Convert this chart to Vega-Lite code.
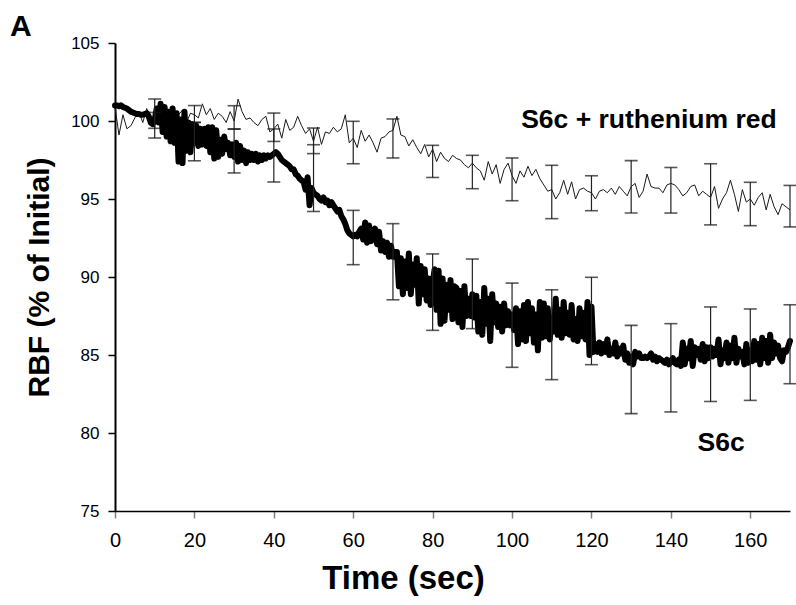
{
  "$schema": "https://vega.github.io/schema/vega-lite/v6.json",
  "width": 675,
  "height": 468,
  "autosize": {"type": "none"},
  "padding": {"left": 115, "top": 43, "right": 6, "bottom": 94},
  "background": "white",
  "config": {"view": {"stroke": null}, "axis": {"grid": false}},
  "title": {"text": "A", "anchor": "start", "frame": "group", "font": "Liberation Sans", "fontSize": 30, "fontWeight": "bold", "color": "#000", "dx": -105, "dy": 40, "offset": 8, "baseline": "alphabetic"},
  "datasets": {
    "rr": [
      {"time":0,"rbf":100.9},{"time":1,"rbf":99.1},{"time":2,"rbf":100.4},{"time":3,"rbf":99.5},{"time":4,"rbf":99.7},{"time":5,"rbf":100.2},{"time":6,"rbf":100.6},{"time":7,"rbf":99.9},{"time":8,"rbf":100.8},{"time":9,"rbf":100.0},
      {"time":10,"rbf":100.3},{"time":11,"rbf":100.9},{"time":12,"rbf":100.1},{"time":13,"rbf":100.6},{"time":14,"rbf":100.5},{"time":15,"rbf":100.0},{"time":16,"rbf":100.4},{"time":17,"rbf":100.7},{"time":18,"rbf":99.9},{"time":19,"rbf":100.5},
      {"time":20,"rbf":100.4},{"time":21,"rbf":100.2},{"time":22,"rbf":101.1},{"time":23,"rbf":100.4},{"time":24,"rbf":100.8},{"time":25,"rbf":100.1},{"time":26,"rbf":100.5},{"time":27,"rbf":100.3},{"time":28,"rbf":99.9},{"time":29,"rbf":100.6},
      {"time":30,"rbf":100.0},{"time":31,"rbf":101.4},{"time":32,"rbf":100.6},{"time":33,"rbf":100.1},{"time":34,"rbf":100.2},{"time":35,"rbf":99.9},{"time":36,"rbf":99.7},{"time":37,"rbf":100.1},{"time":38,"rbf":100.3},{"time":39,"rbf":99.3},
      {"time":40,"rbf":99.5},{"time":41,"rbf":99.8},{"time":42,"rbf":98.9},{"time":43,"rbf":100.1},{"time":44,"rbf":99.4},{"time":45,"rbf":99.6},{"time":46,"rbf":100.3},{"time":47,"rbf":99.7},{"time":48,"rbf":99.2},{"time":49,"rbf":99.5},
      {"time":50,"rbf":98.7},{"time":51,"rbf":99.6},{"time":52,"rbf":98.5},{"time":53,"rbf":99.3},{"time":54,"rbf":99.2},{"time":55,"rbf":99.6},{"time":56,"rbf":99.3},{"time":57,"rbf":99.5},{"time":58,"rbf":100.4},{"time":59,"rbf":98.6},
      {"time":60,"rbf":98.9},{"time":61,"rbf":98.3},{"time":62,"rbf":99.4},{"time":63,"rbf":98.7},{"time":64,"rbf":99.1},{"time":65,"rbf":98.6},{"time":66,"rbf":98.0},{"time":67,"rbf":98.9},{"time":68,"rbf":99.0},{"time":69,"rbf":99.3},
      {"time":70,"rbf":99.4},{"time":71,"rbf":100.3},{"time":72,"rbf":99.1},{"time":73,"rbf":99.0},{"time":74,"rbf":98.4},{"time":75,"rbf":98.8},{"time":76,"rbf":98.3},{"time":77,"rbf":97.9},{"time":78,"rbf":98.5},{"time":79,"rbf":97.7},
      {"time":80,"rbf":98.2},{"time":81,"rbf":97.4},{"time":82,"rbf":98.0},{"time":83,"rbf":97.6},{"time":84,"rbf":97.4},{"time":85,"rbf":97.8},{"time":86,"rbf":97.6},{"time":87,"rbf":97.5},{"time":88,"rbf":97.2},{"time":89,"rbf":97.0},
      {"time":90,"rbf":97.3},{"time":91,"rbf":97.0},{"time":92,"rbf":96.8},{"time":93,"rbf":96.2},{"time":94,"rbf":97.4},{"time":95,"rbf":96.6},{"time":96,"rbf":97.2},{"time":97,"rbf":96.0},{"time":98,"rbf":96.9},{"time":99,"rbf":97.3},
      {"time":100,"rbf":96.5},{"time":101,"rbf":96.0},{"time":102,"rbf":96.8},{"time":103,"rbf":96.4},{"time":104,"rbf":97.1},{"time":105,"rbf":96.5},{"time":106,"rbf":96.9},{"time":107,"rbf":96.3},{"time":108,"rbf":95.9},{"time":109,"rbf":95.5},
      {"time":110,"rbf":95.6},{"time":111,"rbf":95.0},{"time":112,"rbf":95.4},{"time":113,"rbf":96.2},{"time":114,"rbf":95.3},{"time":115,"rbf":96.1},{"time":116,"rbf":95.0},{"time":117,"rbf":95.6},{"time":118,"rbf":95.7},{"time":119,"rbf":95.5},
      {"time":120,"rbf":95.4},{"time":121,"rbf":95.0},{"time":122,"rbf":95.5},{"time":123,"rbf":95.6},{"time":124,"rbf":95.4},{"time":125,"rbf":95.7},{"time":126,"rbf":95.3},{"time":127,"rbf":95.8},{"time":128,"rbf":95.5},{"time":129,"rbf":95.2},
      {"time":130,"rbf":95.8},{"time":131,"rbf":96.0},{"time":132,"rbf":95.1},{"time":133,"rbf":95.5},{"time":134,"rbf":96.6},{"time":135,"rbf":95.8},{"time":136,"rbf":95.7},{"time":137,"rbf":95.7},{"time":138,"rbf":95.4},{"time":139,"rbf":95.9},
      {"time":140,"rbf":96.0},{"time":141,"rbf":95.9},{"time":142,"rbf":95.6},{"time":143,"rbf":95.2},{"time":144,"rbf":95.4},{"time":145,"rbf":95.8},{"time":146,"rbf":95.9},{"time":147,"rbf":95.2},{"time":148,"rbf":95.5},{"time":149,"rbf":95.3},
      {"time":150,"rbf":95.1},{"time":151,"rbf":95.8},{"time":152,"rbf":94.4},{"time":153,"rbf":95.0},{"time":154,"rbf":95.4},{"time":155,"rbf":96.2},{"time":156,"rbf":95.3},{"time":157,"rbf":94.2},{"time":158,"rbf":95.6},{"time":159,"rbf":94.8},
      {"time":160,"rbf":95.0},{"time":161,"rbf":94.6},{"time":162,"rbf":95.1},{"time":163,"rbf":95.4},{"time":164,"rbf":94.3},{"time":165,"rbf":95.3},{"time":166,"rbf":94.5},{"time":167,"rbf":94.0},{"time":168,"rbf":94.7},{"time":169,"rbf":94.5},
      {"time":170,"rbf":94.3}
    ],
    "s6c": [
      {"time":0,"rbf":101.0},{"time":0.5,"rbf":101.0},{"time":1,"rbf":100.95},{"time":1.5,"rbf":101.0},{"time":2,"rbf":100.9},{"time":2.5,"rbf":100.85},{"time":3,"rbf":100.8},{"time":3.5,"rbf":100.7},{"time":4,"rbf":100.6},{"time":4.5,"rbf":100.55},
      {"time":5,"rbf":100.5},{"time":5.5,"rbf":100.45},{"time":6,"rbf":100.45},{"time":6.5,"rbf":100.4},{"time":7,"rbf":100.4},{"time":7.5,"rbf":100.45},{"time":8,"rbf":100.5},{"time":8.5,"rbf":100.3},{"time":9,"rbf":99.9},{"time":9.5,"rbf":99.8},
      {"time":10,"rbf":100.1},{"time":10.5,"rbf":100.8},{"time":11,"rbf":99.9},{"time":11.5,"rbf":101.1},{"time":12,"rbf":99.3},{"time":12.5,"rbf":100.9},{"time":13,"rbf":99.0},{"time":13.5,"rbf":100.6},{"time":14,"rbf":98.7},{"time":14.5,"rbf":100.8},
      {"time":15,"rbf":98.6},{"time":15.5,"rbf":100.5},{"time":16,"rbf":97.4},{"time":16.5,"rbf":100.1},{"time":17,"rbf":97.3},{"time":17.5,"rbf":100.6},{"time":18,"rbf":98.1},{"time":18.5,"rbf":99.9},{"time":19,"rbf":98.0},{"time":19.5,"rbf":99.8},
      {"time":20,"rbf":98.6},{"time":20.5,"rbf":99.7},{"time":21,"rbf":98.4},{"time":21.5,"rbf":99.5},{"time":22,"rbf":98.5},{"time":22.5,"rbf":99.5},{"time":23,"rbf":98.4},{"time":23.5,"rbf":99.6},{"time":24,"rbf":98.0},{"time":24.5,"rbf":99.6},
      {"time":25,"rbf":97.6},{"time":25.5,"rbf":99.4},{"time":26,"rbf":97.7},{"time":26.5,"rbf":98.8},{"time":27,"rbf":97.9},{"time":27.5,"rbf":99.0},{"time":28,"rbf":98.2},{"time":28.5,"rbf":98.6},{"time":29,"rbf":97.8},{"time":29.5,"rbf":98.5},
      {"time":30,"rbf":97.7},{"time":30.5,"rbf":98.6},{"time":31,"rbf":97.4},{"time":31.5,"rbf":98.4},{"time":32,"rbf":97.5},{"time":32.5,"rbf":98.1},{"time":33,"rbf":97.3},{"time":33.5,"rbf":98.0},{"time":34,"rbf":97.5},{"time":34.5,"rbf":97.9},
      {"time":35,"rbf":97.5},{"time":35.5,"rbf":97.9},{"time":36,"rbf":97.4},{"time":36.5,"rbf":97.8},{"time":37,"rbf":97.5},{"time":37.5,"rbf":97.8},{"time":38,"rbf":97.6},{"time":38.5,"rbf":97.8},{"time":39,"rbf":97.7},{"time":39.5,"rbf":97.8},
      {"time":40,"rbf":97.9},{"time":40.5,"rbf":98.0},{"time":41,"rbf":97.9},{"time":41.5,"rbf":97.7},{"time":42,"rbf":97.5},{"time":42.5,"rbf":97.4},{"time":43,"rbf":97.3},{"time":43.5,"rbf":97.2},{"time":44,"rbf":97.1},{"time":44.5,"rbf":96.9},
      {"time":45,"rbf":96.9},{"time":45.5,"rbf":96.6},{"time":46,"rbf":96.5},{"time":46.5,"rbf":96.3},{"time":47,"rbf":96.2},{"time":47.5,"rbf":96.1},{"time":48,"rbf":95.6},{"time":48.5,"rbf":96.4},{"time":49,"rbf":94.6},{"time":49.5,"rbf":95.7},
      {"time":50,"rbf":95.4},{"time":50.5,"rbf":95.3},{"time":51,"rbf":95.2},{"time":51.5,"rbf":95.0},{"time":52,"rbf":94.9},{"time":52.5,"rbf":95.1},{"time":53,"rbf":94.8},{"time":53.5,"rbf":94.9},{"time":54,"rbf":94.6},{"time":54.5,"rbf":94.8},
      {"time":55,"rbf":94.6},{"time":55.5,"rbf":94.4},{"time":56,"rbf":94.2},{"time":56.5,"rbf":94.3},{"time":57,"rbf":93.9},{"time":57.5,"rbf":93.7},{"time":58,"rbf":93.4},{"time":58.5,"rbf":93.0},{"time":59,"rbf":92.8},{"time":59.5,"rbf":92.7},
      {"time":60,"rbf":92.6},{"time":60.5,"rbf":92.7},{"time":61,"rbf":92.6},{"time":61.5,"rbf":92.9},{"time":62,"rbf":93.1},{"time":62.5,"rbf":92.4},{"time":63,"rbf":93.5},{"time":63.5,"rbf":92.2},{"time":64,"rbf":93.3},{"time":64.5,"rbf":92.3},
      {"time":65,"rbf":92.6},{"time":65.5,"rbf":93.1},{"time":66,"rbf":92.1},{"time":66.5,"rbf":92.9},{"time":67,"rbf":91.7},{"time":67.5,"rbf":92.3},{"time":68,"rbf":91.6},{"time":68.5,"rbf":92.2},{"time":69,"rbf":91.3},{"time":69.5,"rbf":92.0},
      {"time":70,"rbf":91.3},{"time":70.5,"rbf":91.6},{"time":71,"rbf":91.6},{"time":71.5,"rbf":89.4},{"time":72,"rbf":91.2},{"time":72.5,"rbf":88.9},{"time":73,"rbf":91.0},{"time":73.5,"rbf":89.3},{"time":74,"rbf":91.5},{"time":74.5,"rbf":88.9},
      {"time":75,"rbf":90.8},{"time":75.5,"rbf":89.5},{"time":76,"rbf":91.2},{"time":76.5,"rbf":88.3},{"time":77,"rbf":90.7},{"time":77.5,"rbf":88.9},{"time":78,"rbf":90.5},{"time":78.5,"rbf":88.5},{"time":79,"rbf":89.9},{"time":79.5,"rbf":88.2},
      {"time":80,"rbf":89.6},{"time":80.5,"rbf":90.5},{"time":81,"rbf":87.9},{"time":81.5,"rbf":90.4},{"time":82,"rbf":87.0},{"time":82.5,"rbf":89.9},{"time":83,"rbf":87.2},{"time":83.5,"rbf":89.5},{"time":84,"rbf":87.9},{"time":84.5,"rbf":89.8},
      {"time":85,"rbf":87.3},{"time":85.5,"rbf":89.4},{"time":86,"rbf":89.3},{"time":86.5,"rbf":87.1},{"time":87,"rbf":89.1},{"time":87.5,"rbf":86.8},{"time":88,"rbf":89.4},{"time":88.5,"rbf":87.5},{"time":89,"rbf":88.6},{"time":89.5,"rbf":87.5},
      {"time":90,"rbf":88.9},{"time":90.5,"rbf":87.4},{"time":91,"rbf":88.8},{"time":91.5,"rbf":86.5},{"time":92,"rbf":88.4},{"time":92.5,"rbf":86.3},{"time":93,"rbf":89.3},{"time":93.5,"rbf":87.0},{"time":94,"rbf":88.6},{"time":94.5,"rbf":85.9},
      {"time":95,"rbf":88.9},{"time":95.5,"rbf":87.1},{"time":96,"rbf":88.3},{"time":96.5,"rbf":86.8},{"time":97,"rbf":88.1},{"time":97.5,"rbf":86.5},{"time":98,"rbf":88.3},{"time":98.5,"rbf":86.9},{"time":99,"rbf":87.8},{"time":99.5,"rbf":86.9},
      {"time":100,"rbf":87.6},{"time":100.5,"rbf":86.6},{"time":101,"rbf":88.0},{"time":101.5,"rbf":85.7},{"time":102,"rbf":87.8},{"time":102.5,"rbf":86.0},{"time":103,"rbf":88.2},{"time":103.5,"rbf":85.9},{"time":104,"rbf":88.4},{"time":104.5,"rbf":86.4},
      {"time":105,"rbf":88.0},{"time":105.5,"rbf":85.8},{"time":106,"rbf":87.6},{"time":106.5,"rbf":85.3},{"time":107,"rbf":88.4},{"time":107.5,"rbf":86.1},{"time":108,"rbf":88.3},{"time":108.5,"rbf":86.2},{"time":109,"rbf":88.0},{"time":109.5,"rbf":86.0},
      {"time":110,"rbf":87.4},{"time":110.5,"rbf":86.5},{"time":111,"rbf":88.6},{"time":111.5,"rbf":86.3},{"time":112,"rbf":87.9},{"time":112.5,"rbf":86.1},{"time":113,"rbf":88.4},{"time":113.5,"rbf":86.4},{"time":114,"rbf":87.7},{"time":114.5,"rbf":86.3},
      {"time":115,"rbf":88.2},{"time":115.5,"rbf":86.0},{"time":116,"rbf":87.3},{"time":116.5,"rbf":85.9},{"time":117,"rbf":88.0},{"time":117.5,"rbf":86.2},{"time":118,"rbf":87.7},{"time":118.5,"rbf":86.0},{"time":119,"rbf":88.4},{"time":119.5,"rbf":85.0},
      {"time":120,"rbf":88.1},{"time":120.5,"rbf":85.2},{"time":121,"rbf":85.7},{"time":121.5,"rbf":85.2},{"time":122,"rbf":85.8},{"time":122.5,"rbf":85.1},{"time":123,"rbf":85.7},{"time":123.5,"rbf":85.2},{"time":124,"rbf":86.0},{"time":124.5,"rbf":85.0},
      {"time":125,"rbf":85.4},{"time":125.5,"rbf":85.1},{"time":126,"rbf":85.8},{"time":126.5,"rbf":84.9},{"time":127,"rbf":85.4},{"time":127.5,"rbf":85.1},{"time":128,"rbf":85.6},{"time":128.5,"rbf":84.7},{"time":129,"rbf":85.1},{"time":129.5,"rbf":84.5},
      {"time":130,"rbf":84.9},{"time":130.5,"rbf":84.4},{"time":131,"rbf":85.2},{"time":131.5,"rbf":84.9},{"time":132,"rbf":85.1},{"time":132.5,"rbf":84.8},{"time":133,"rbf":84.8},{"time":133.5,"rbf":84.9},{"time":134,"rbf":84.8},{"time":134.5,"rbf":84.9},
      {"time":135,"rbf":85.1},{"time":135.5,"rbf":84.7},{"time":136,"rbf":84.9},{"time":136.5,"rbf":84.6},{"time":137,"rbf":84.8},{"time":137.5,"rbf":84.7},{"time":138,"rbf":84.6},{"time":138.5,"rbf":84.5},{"time":139,"rbf":84.7},{"time":139.5,"rbf":84.4},
      {"time":140,"rbf":84.6},{"time":140.5,"rbf":84.8},{"time":141,"rbf":84.5},{"time":141.5,"rbf":84.4},{"time":142,"rbf":84.7},{"time":142.5,"rbf":84.3},{"time":143,"rbf":85.8},{"time":143.5,"rbf":84.4},{"time":144,"rbf":85.4},{"time":144.5,"rbf":84.8},
      {"time":145,"rbf":85.9},{"time":145.5,"rbf":84.3},{"time":146,"rbf":85.5},{"time":146.5,"rbf":85.0},{"time":147,"rbf":85.4},{"time":147.5,"rbf":84.7},{"time":148,"rbf":85.7},{"time":148.5,"rbf":84.6},{"time":149,"rbf":85.5},{"time":149.5,"rbf":84.8},
      {"time":150,"rbf":85.5},{"time":150.5,"rbf":84.9},{"time":151,"rbf":85.4},{"time":151.5,"rbf":85.0},{"time":152,"rbf":86.0},{"time":152.5,"rbf":84.4},{"time":153,"rbf":85.3},{"time":153.5,"rbf":84.8},{"time":154,"rbf":85.8},{"time":154.5,"rbf":84.5},
      {"time":155,"rbf":85.6},{"time":155.5,"rbf":84.8},{"time":156,"rbf":86.1},{"time":156.5,"rbf":84.5},{"time":157,"rbf":85.4},{"time":157.5,"rbf":84.9},{"time":158,"rbf":85.2},{"time":158.5,"rbf":84.4},{"time":159,"rbf":85.7},{"time":159.5,"rbf":84.5},
      {"time":160,"rbf":85.3},{"time":160.5,"rbf":84.6},{"time":161,"rbf":85.9},{"time":161.5,"rbf":84.7},{"time":162,"rbf":85.7},{"time":162.5,"rbf":84.4},{"time":163,"rbf":86.1},{"time":163.5,"rbf":84.8},{"time":164,"rbf":85.9},{"time":164.5,"rbf":84.5},
      {"time":165,"rbf":86.3},{"time":165.5,"rbf":84.8},{"time":166,"rbf":85.8},{"time":166.5,"rbf":85.1},{"time":167,"rbf":85.6},{"time":167.5,"rbf":84.8},{"time":168,"rbf":84.6},{"time":168.5,"rbf":85.3},{"time":169,"rbf":85.2},{"time":169.5,"rbf":85.5},
      {"time":170,"rbf":85.9}
    ],
    "bars": [
      {"time":10,"series":"S6c + ruthenium red","lower":98.91,"upper":101.41},
      {"time":20,"series":"S6c + ruthenium red","lower":99.91,"upper":100.99},
      {"time":30,"series":"S6c + ruthenium red","lower":99.48,"upper":100.98},
      {"time":40,"series":"S6c + ruthenium red","lower":98.69,"upper":100.51},
      {"time":50,"series":"S6c + ruthenium red","lower":97.91,"upper":99.55},
      {"time":60,"series":"S6c + ruthenium red","lower":97.26,"upper":99.98},
      {"time":70,"series":"S6c + ruthenium red","lower":97.63,"upper":100.13},
      {"time":80,"series":"S6c + ruthenium red","lower":96.38,"upper":98.44},
      {"time":90,"series":"S6c + ruthenium red","lower":95.66,"upper":97.8},
      {"time":100,"series":"S6c + ruthenium red","lower":94.89,"upper":97.63},
      {"time":110,"series":"S6c + ruthenium red","lower":93.74,"upper":97.16},
      {"time":120,"series":"S6c + ruthenium red","lower":94.25,"upper":96.49},
      {"time":130,"series":"S6c + ruthenium red","lower":94.1,"upper":97.46},
      {"time":140,"series":"S6c + ruthenium red","lower":94.1,"upper":97.02},
      {"time":150,"series":"S6c + ruthenium red","lower":93.34,"upper":97.26},
      {"time":160,"series":"S6c + ruthenium red","lower":93.29,"upper":96.07},
      {"time":170,"series":"S6c + ruthenium red","lower":93.21,"upper":95.87},
      {"time":10,"series":"S6c","lower":99.53,"upper":100.55},
      {"time":20,"series":"S6c","lower":97.45,"upper":99.91},
      {"time":30,"series":"S6c","lower":96.67,"upper":99.49},
      {"time":40,"series":"S6c","lower":96.09,"upper":99.49},
      {"time":50,"series":"S6c","lower":94.2,"upper":98.48},
      {"time":60,"series":"S6c","lower":90.79,"upper":94.27},
      {"time":70,"series":"S6c","lower":88.54,"upper":93.42},
      {"time":80,"series":"S6c","lower":86.58,"upper":91.48},
      {"time":90,"series":"S6c","lower":86.69,"upper":91.15},
      {"time":100,"series":"S6c","lower":84.21,"upper":89.61},
      {"time":110,"series":"S6c","lower":83.42,"upper":89.18},
      {"time":120,"series":"S6c","lower":84.38,"upper":89.98},
      {"time":130,"series":"S6c","lower":81.24,"upper":86.9},
      {"time":140,"series":"S6c","lower":81.35,"upper":87.01},
      {"time":150,"series":"S6c","lower":82.02,"upper":88.08},
      {"time":160,"series":"S6c","lower":82.09,"upper":87.95},
      {"time":170,"series":"S6c","lower":83.16,"upper":88.22}
    ],
    "labels": [
      {"time":102.3,"rbf":99.55,"label":"S6c + ruthenium red"},
      {"time":146.7,"rbf":78.82,"label":"S6c"}
    ]
  },
  "layer": [
    {
      "data": {"name": "rr"},
      "mark": {"type": "line", "color": "#1a1a1a", "strokeWidth": 1},
      "encoding": {
        "x": {"field": "time", "type": "quantitative", "title": "Time (sec)",
          "scale": {"domain": [0, 170], "nice": false, "zero": false},
          "axis": {"values": [0, 20, 40, 60, 80, 100, 120, 140, 160], "tickSize": 7, "tickColor": "#808080", "tickWidth": 1.5,
            "domainColor": "#000", "domainWidth": 1.5, "labelFont": "Liberation Sans", "labelFontSize": 20, "labelColor": "#000",
            "labelPadding": 12, "labelFlush": false, "titleFont": "Liberation Sans", "titleFontSize": 33, "titleFontWeight": "bold",
            "titleColor": "#000", "titlePadding": 12, "titleX": 288, "titleAlign": "center"}},
        "y": {"field": "rbf", "type": "quantitative", "title": "RBF (% of Initial)",
          "scale": {"domain": [75, 105], "nice": false, "zero": false},
          "axis": {"values": [75, 80, 85, 90, 95, 100, 105], "tickSize": 7, "tickColor": "#000", "tickWidth": 1.5,
            "domainColor": "#000", "domainWidth": 2, "labelFont": "Liberation Sans", "labelFontSize": 17, "labelColor": "#000",
            "labelPadding": 9, "labelFlush": false, "titleFont": "Liberation Sans", "titleFontSize": 30, "titleFontWeight": "bold",
            "titleColor": "#000", "titlePadding": 16}}
      }
    },
    {
      "data": {"name": "s6c"},
      "mark": {"type": "line", "color": "#000", "strokeWidth": 6, "strokeJoin": "round", "strokeCap": "round"},
      "encoding": {
        "x": {"field": "time", "type": "quantitative", "title": "Time (sec)"},
        "y": {"field": "rbf", "type": "quantitative", "title": "RBF (% of Initial)"}
      }
    },
    {
      "data": {"name": "bars"},
      "mark": {"type": "rule", "color": "#222", "strokeWidth": 1.2},
      "encoding": {
        "x": {"field": "time", "type": "quantitative", "title": "Time (sec)"},
        "y": {"field": "lower", "type": "quantitative", "title": "RBF (% of Initial)"},
        "y2": {"field": "upper"}
      }
    },
    {
      "data": {"name": "bars"},
      "mark": {"type": "tick", "orient": "horizontal", "color": "#111", "size": 13, "thickness": 1.6},
      "encoding": {
        "x": {"field": "time", "type": "quantitative", "title": "Time (sec)"},
        "y": {"field": "lower", "type": "quantitative", "title": "RBF (% of Initial)"}
      }
    },
    {
      "data": {"name": "bars"},
      "mark": {"type": "tick", "orient": "horizontal", "color": "#111", "size": 13, "thickness": 1.6},
      "encoding": {
        "x": {"field": "time", "type": "quantitative", "title": "Time (sec)"},
        "y": {"field": "upper", "type": "quantitative", "title": "RBF (% of Initial)"}
      }
    },
    {
      "data": {"name": "labels"},
      "mark": {"type": "text", "align": "left", "baseline": "alphabetic", "font": "Liberation Sans", "fontSize": 26.5, "fontWeight": "bold", "color": "#000"},
      "encoding": {
        "x": {"field": "time", "type": "quantitative", "title": "Time (sec)"},
        "y": {"field": "rbf", "type": "quantitative", "title": "RBF (% of Initial)"},
        "text": {"field": "label"}
      }
    }
  ]
}
